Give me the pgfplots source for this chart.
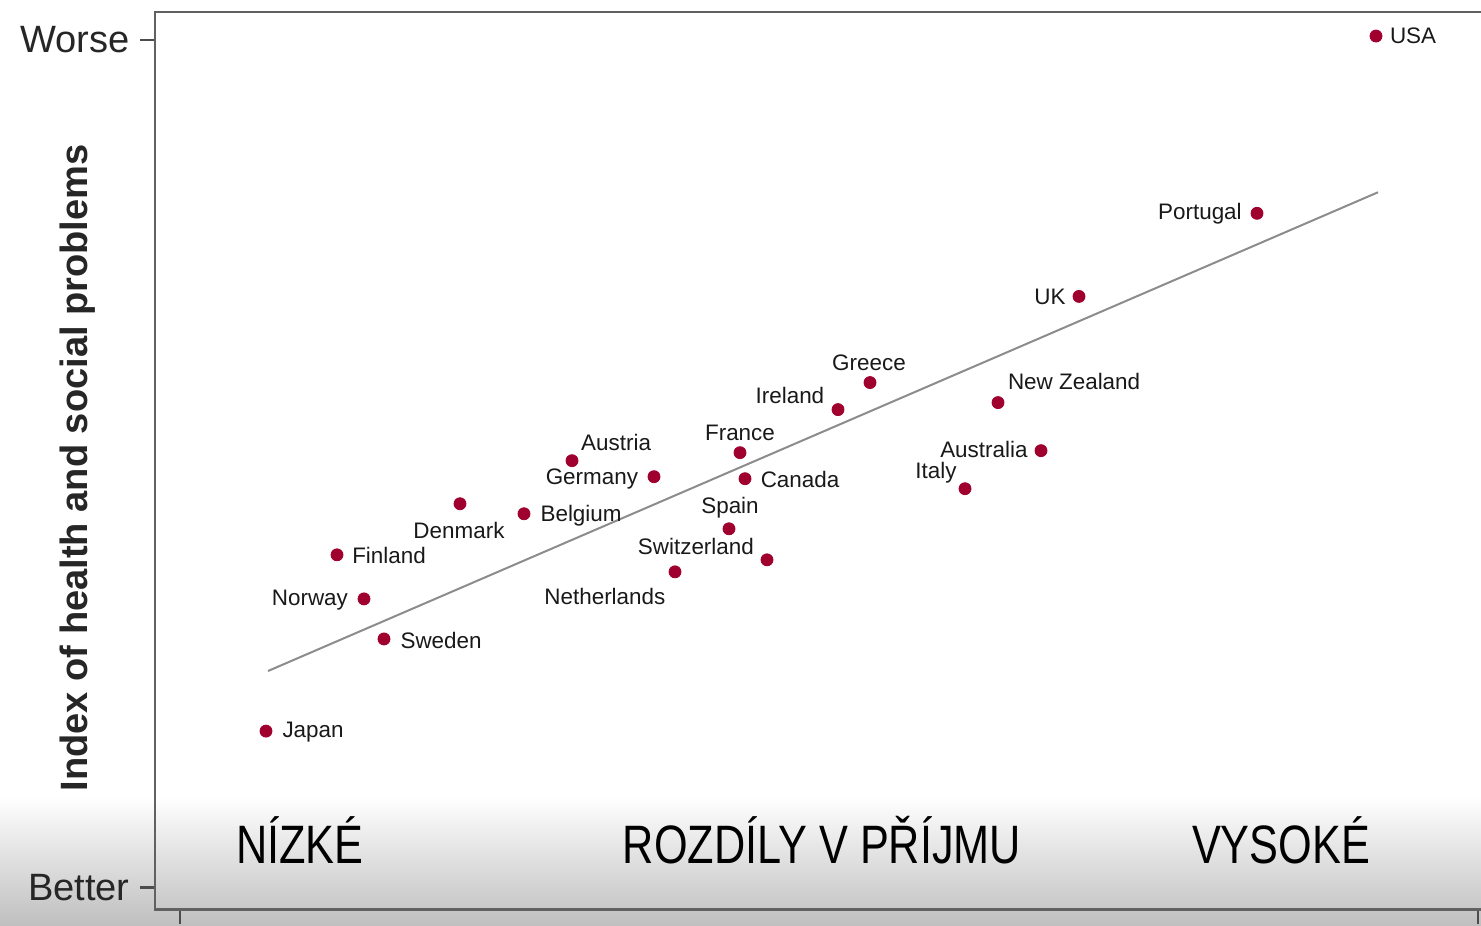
\documentclass[border=0pt]{standalone}
\usepackage{pgfplots}
\usepackage{pgfplotstable}
\pgfplotsset{compat=1.18}
\usepackage{fontspec}
\setmainfont{Liberation Sans}
\newfontfamily\condfont[FakeStretch=0.80]{Liberation Sans}
\definecolor{dotred}{RGB}{160,0,45}
\pgfplotstableread[col sep=comma]{
x,y,dx,dy,label
1376,888,37,0,USA
1257,711,-57,0,Portugal
1079,628,-29,0,UK
998,522,76,21,New Zealand
870,542,-1,20,Greece
838,515,-48,14,Ireland
1041,474,-57,1,Australia
965,436,-29,16,Italy
740,472,0,20,France
745,446,55,-1,Canada
572,464,44,18,Austria
654,448,-62,-2,Germany
524,411,57,-2,Belgium
460,421,-1,-27,Denmark
729,396,1,21,Spain
767,365,-71,13,Switzerland
675,353,-70,-25,Netherlands
337,370,52,-1,Finland
364,326,-54,-1,Norway
384,286,57,-2,Sweden
266,194,47,-1,Japan
}\countries
\pgfplotstableread{
x y
268 254
1378 732
}\fitline
\begin{document}
\begin{tikzpicture}
\begin{axis}[
  set layers,
  scale only axis,
  width=662.5pt, height=448pt,
  xmin=155, xmax=1482, ymin=16, ymax=912,
  clip=false,
  axis line style={black!62, line width=1.4pt},
  tick align=outside,
  xtick pos=bottom, ytick pos=left,
  major tick length=7.5pt,
  tick style={black!70, line width=1.2pt},
  ytick={38,884}, yticklabels={Better,Worse},
  xtick={180,1478}, xticklabels={,},
  yticklabel style={font=\fontsize{19}{22}\selectfont, text=black!85, inner sep=0pt, xshift=-5pt},
  ylabel={Index of health and social problems},
  ylabel style={at={(axis description cs:-0.058,0.492)}, anchor=center,
    font=\bfseries\fontsize{19}{22}\selectfont, text=black!85},
]
\begin{pgfonlayer}{axis background}
\shade[top color=white, bottom color=black!25] (axis cs:0,129) rectangle (axis cs:1481,0);
\end{pgfonlayer}
\coordinate (ll) at (axis cs:0,0);
\coordinate (ur) at (axis cs:1481,924);
\addplot[black!45, line width=1pt] table[x=x,y=y] {\fitline};
\addplot[only marks, mark=*, mark size=3pt, mark options={fill=dotred, draw=dotred},
  point meta=explicit symbolic,
  visualization depends on={\thisrow{dx}\as\dx},
  visualization depends on={\thisrow{dy}\as\dy},
  nodes near coords,
  every node near coord/.append style={anchor=center, inner sep=0pt,
    xshift=\dx*0.5pt, yshift=\dy*0.5pt,
    font=\fontsize{11.2}{13}\selectfont, text=black!90},
] table[x=x, y=y, meta=label] {\countries};
\node[font=\condfont\fontsize{27}{30}\selectfont, anchor=base] at (axis cs:300,62) {NÍZKÉ};
\node[font=\condfont\fontsize{27}{30}\selectfont, anchor=base] at (axis cs:822,62) {ROZDÍLY V PŘÍJMU};
\node[font=\condfont\fontsize{27}{30}\selectfont, anchor=base] at (axis cs:1281,62) {VYSOKÉ};
\end{axis}
\pgfresetboundingbox
\path[use as bounding box] (ll) rectangle (ur);
\end{tikzpicture}
\end{document}
